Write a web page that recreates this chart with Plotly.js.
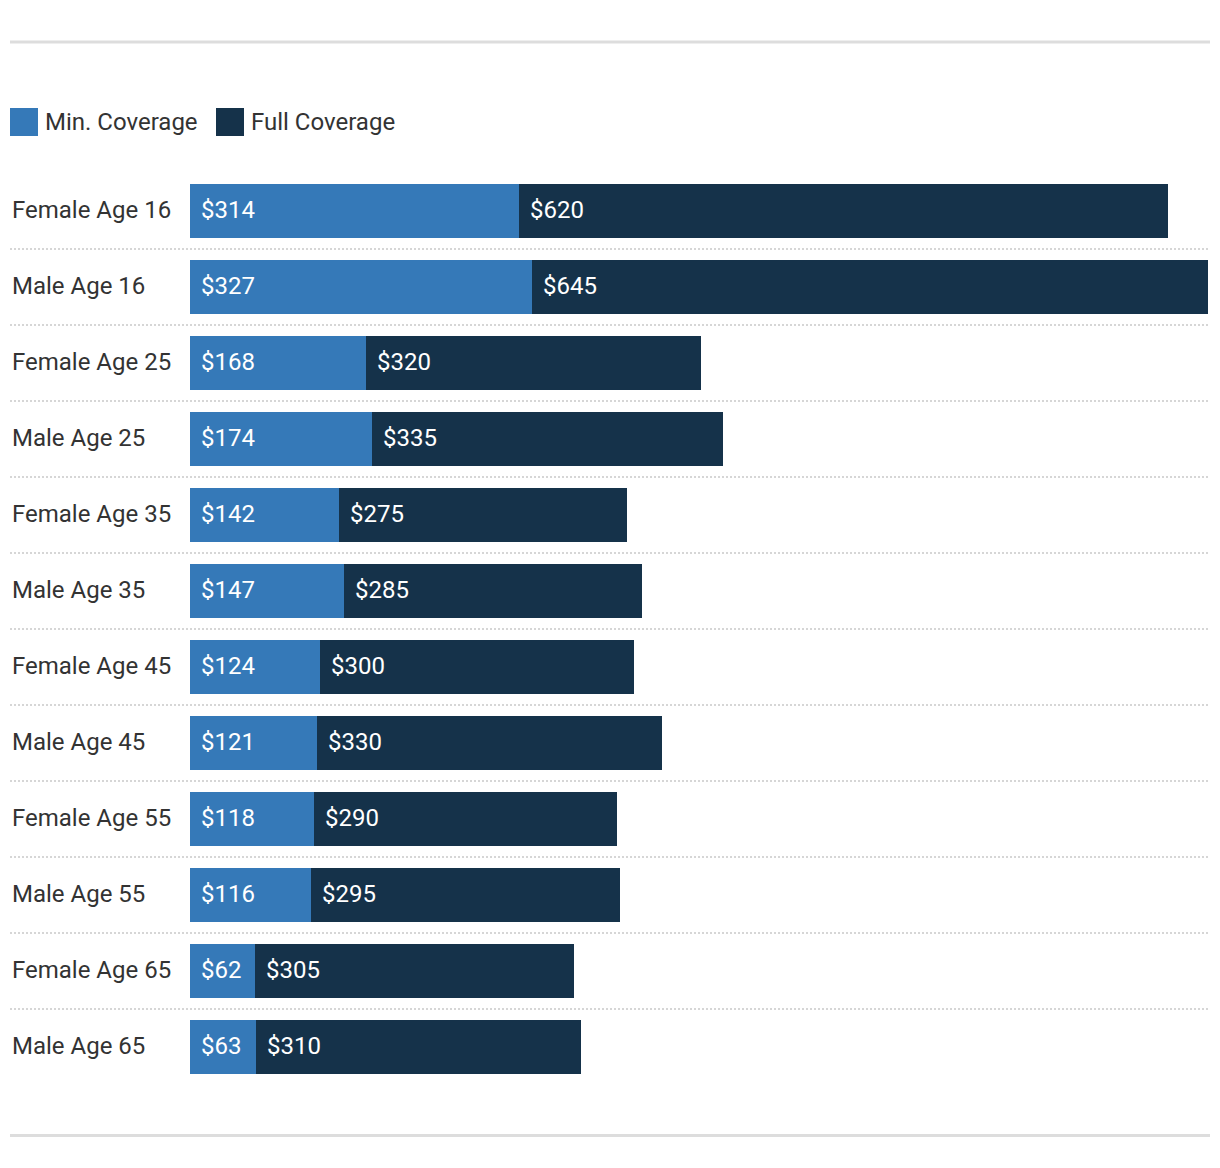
<!DOCTYPE html>
<html>
<head>
<meta charset="utf-8">
<script src="https://cdn.plot.ly/plotly-3.0.1.min.js"></script>
<style>html,body{margin:0;padding:0;background:#fff;}#chart{width:1220px;height:1168px;}</style>
</head>
<body>
<div id="chart"></div>
<script>
const categories = ["Female Age 16","Male Age 16","Female Age 25","Male Age 25","Female Age 35","Male Age 35","Female Age 45","Male Age 45","Female Age 55","Male Age 55","Female Age 65","Male Age 65"];
const minCoverage = [314,327,168,174,142,147,124,121,118,116,62,63];
const fullCoverage = [620,645,320,335,275,285,300,330,290,295,305,310];
const seriesNames = ["Min. Coverage","Full Coverage"];
const seriesColors = ["#3579b8","#15324a"];

const W = 1220, H = 1168;
const mL = 190, mR = 12, mT = 173, mB = 83;
const pw = W - mL - mR, ph = H - mT - mB;
const px2x = p => (p - mL) / pw;
const py2y = p => (H - mB - p) / ph;
const FONT = "Roboto, 'Noto Sans', sans-serif";
const FS = 24;

const traces = [
  {type:'bar', orientation:'h', name:seriesNames[0], y:categories, x:minCoverage,
   marker:{color:seriesColors[0]}, hoverinfo:'none', showlegend:false},
  {type:'bar', orientation:'h', name:seriesNames[1], y:categories, x:fullCoverage,
   marker:{color:seriesColors[1]}, hoverinfo:'none', showlegend:false}
];

const annotations = [];
const shapes = [];
categories.forEach((c, i) => {
  annotations.push({x:px2x(10), xref:'paper', y:c, yref:'y', text:c, showarrow:false, yshift:1,
    xanchor:'left', yanchor:'middle', font:{family:FONT, size:FS, color:'#333333'}});
  annotations.push({x:0, xref:'x', y:c, yref:'y', text:'$' + minCoverage[i], showarrow:false, yshift:1,
    xanchor:'left', yanchor:'middle', xshift:9, font:{family:FONT, size:FS, color:'#ffffff'}});
  annotations.push({x:minCoverage[i], xref:'x', y:c, yref:'y', text:'$' + fullCoverage[i], showarrow:false, yshift:1,
    xanchor:'left', yanchor:'middle', xshift:9, font:{family:FONT, size:FS, color:'#ffffff'}});
  if (i < categories.length - 1) {
    shapes.push({type:'line', xref:'paper', yref:'y', x0:px2x(10), x1:1, y0:i + 0.5, y1:i + 0.5,
      line:{color:'#d6d6d6', width:2, dash:'2px,2px'}});
  }
});

// top and bottom rules
shapes.push({type:'line', xref:'paper', yref:'paper', x0:px2x(10), x1:px2x(1210), y0:py2y(42), y1:py2y(42),
  line:{color:'#dddddd', width:3}});
shapes.push({type:'line', xref:'paper', yref:'paper', x0:px2x(10), x1:px2x(1210), y0:py2y(1135.5), y1:py2y(1135.5),
  line:{color:'#dddddd', width:3}});

// legend
const legendX = [10, 216];
seriesNames.forEach((n, k) => {
  shapes.push({type:'rect', xref:'paper', yref:'paper', x0:px2x(legendX[k]), x1:px2x(legendX[k] + 28),
    y0:py2y(136), y1:py2y(108), fillcolor:seriesColors[k], line:{width:0}});
  annotations.push({xref:'paper', yref:'paper', x:px2x(legendX[k] + 32.5), y:py2y(122), text:n, showarrow:false,
    xanchor:'left', yanchor:'middle', font:{family:FONT, size:FS, color:'#333333'}});
});

const layout = {
  width:W, height:H, margin:{l:mL, r:mR, t:mT, b:mB, pad:0},
  paper_bgcolor:'#ffffff', plot_bgcolor:'#ffffff',
  barmode:'stack', bargap:22/76,
  font:{family:FONT},
  xaxis:{range:[0, 972], showgrid:false, zeroline:false, showticklabels:false, showline:false, ticks:'', fixedrange:true},
  yaxis:{type:'category', autorange:'reversed', showgrid:false, zeroline:false, showticklabels:false, showline:false, ticks:'', fixedrange:true},
  showlegend:false,
  shapes:shapes, annotations:annotations
};

Plotly.newPlot('chart', traces, layout, {displayModeBar:false, staticPlot:true});
</script>
</body>
</html>
